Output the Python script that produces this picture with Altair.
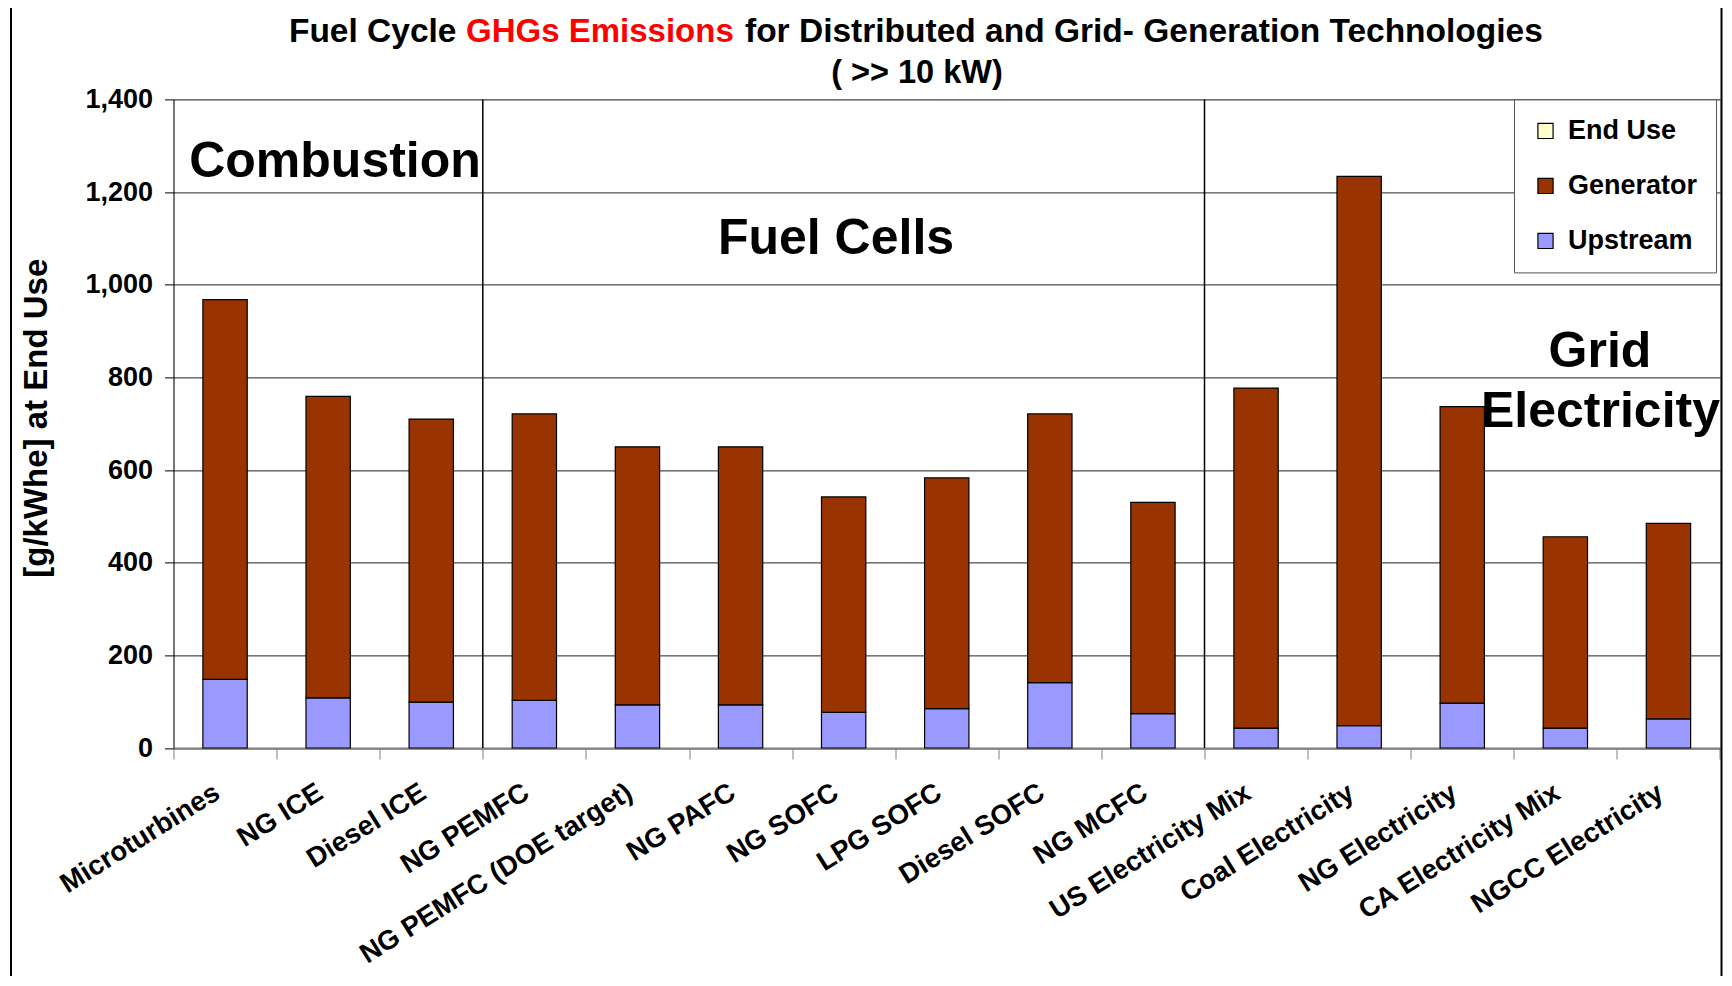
import altair as alt
import pandas as pd

categories = [
    "Microturbines", "NG ICE", "Diesel ICE", "NG PEMFC", "NG PEMFC (DOE target)",
    "NG PAFC", "NG SOFC", "LPG SOFC", "Diesel SOFC", "NG MCFC",
    "US Electricity Mix", "Coal Electricity", "NG Electricity", "CA Electricity Mix",
    "NGCC Electricity",
]
upstream = [148, 108, 99, 103, 93, 93, 77, 85, 141, 74, 43, 48, 97, 43, 63]
generator = [820, 651, 611, 618, 557, 557, 465, 498, 580, 456, 734, 1186, 640, 413, 422]
end_use = [0, 0, 0, 0, 0, 0, 0, 0, 0, 0, 0, 0, 0, 0, 0]

series_names = ["End Use", "Generator", "Upstream"]
series_colors = ["#FFFFCC", "#993300", "#9999FF"]
y_ticks = [0, 200, 400, 600, 800, 1000, 1200, 1400]
separators = ["NG PEMFC", "US Electricity Mix"]
group_labels = ["Combustion", "Fuel Cells", "Grid", "Electricity"]
title_parts = ["Fuel Cycle", "GHGs Emissions", "for Distributed and Grid- Generation Technologies"]
subtitle = "( >> 10 kW)"
y_title = "[g/kWhe] at End Use"

rows = []
for i, c in enumerate(categories):
    rows.append({"cat": c, "series": "Upstream", "value": upstream[i], "ord": 0})
    rows.append({"cat": c, "series": "Generator", "value": generator[i], "ord": 1})
    rows.append({"cat": c, "series": "End Use", "value": end_use[i], "ord": 2})
df = pd.DataFrame(rows)

W, H = 1546.5, 648.6
FONT = "Liberation Sans"


def x_enc(**kw):
    return alt.X(
        "cat:N", sort=categories,
        scale=alt.Scale(paddingInner=0, paddingOuter=0),
        axis=alt.Axis(
            title=None, labelAngle=-32, labelAlign="right", labelBaseline="middle",
            labelFontSize=27.5, labelFontWeight="bold", labelFont=FONT, labelColor="black",
            labelPadding=31, labelOffset=-8, labelLimit=0, tickBand="extent", tickSize=11,
            tickColor="#808080", domainColor="#808080", domainWidth=2, grid=False,
        ),
        **kw,
    )


y = alt.Y(
    "value:Q", stack="zero",
    scale=alt.Scale(domain=[0, 1400], nice=False),
    axis=alt.Axis(
        values=y_ticks, format=",.0f", title=y_title,
        titleFontSize=33, titleFontWeight="bold", titleFont=FONT, titleColor="black",
        titleX=-137, titleY=H / 2 - 6, titleAngle=270, titleAlign="center", titleBaseline="middle",
        labelFontSize=27, labelFontWeight="bold", labelFont=FONT, labelColor="black",
        labelPadding=12, tickSize=9, tickColor="black", domainColor="black",
        gridColor="#222", gridWidth=1,
    ),
)

bars = alt.Chart(df).transform_filter("datum.value > 0").mark_bar(
    width=alt.RelativeBandSize(0.43), stroke="black", strokeWidth=1.2
).encode(
    x=x_enc(),
    y=y,
    color=alt.Color(
        "series:N",
        scale=alt.Scale(domain=series_names, range=series_colors),
        legend=alt.Legend(
            title=None, orient="none", legendX=1340.5, legendY=0,
            symbolType="square", symbolSize=230, symbolStrokeColor="black",
            symbolStrokeWidth=1.2, symbolOpacity=1,
            labelFontSize=27, labelFontWeight="bold", labelFont=FONT, labelColor="black",
            labelOffset=9, rowPadding=27, padding=18,
            strokeColor="#555", fillColor="white",
        ),
    ),
    order=alt.Order("ord:Q"),
)

sep_df = pd.DataFrame({"cat": separators})
seps = alt.Chart(sep_df).mark_rule(color="black", strokeWidth=1.5).encode(
    x=x_enc(bandPosition=0), y=alt.value(0), y2=alt.value(H)
)

one = pd.DataFrame({"k": [0]})
border = alt.Chart(one).mark_rect(fill=None, stroke="black", strokeWidth=2).encode(
    x=alt.value(-162.5), x2=alt.value(1548), y=alt.value(-95), y2=alt.value(H + 260)
)


def text_layer(txt, xv, yv, size, align="center", color="black"):
    return alt.Chart(pd.DataFrame({"t": [txt]})).mark_text(
        font=FONT, fontSize=size, fontWeight="bold", align=align, baseline="alphabetic",
        color=color,
    ).encode(text="t:N", x=alt.value(xv), y=alt.value(yv))


labels = [
    text_layer(group_labels[0], 161.5, 78, 50),
    text_layer(group_labels[1], 662.5, 155, 50),
    text_layer(group_labels[2], 1426.5, 268, 50),
    text_layer(group_labels[3], 1427, 328, 50),
]

titles = [
    text_layer(title_parts[0], 283, -57, 33.5, align="right"),
    text_layer(title_parts[1], 292.5, -57, 33.0, align="left", color="#FF0000"),
    text_layer(title_parts[2], 571.5, -57, 33.5, align="left"),
    text_layer(subtitle, 743.5, -16, 32.5),
]

chart = alt.layer(border, bars, seps, *labels, *titles).properties(
    width=W, height=H,
    autosize=alt.AutoSizeParams(type="none"),
    padding={"left": 165.5, "top": 91.4, "right": 4, "bottom": 228},
).configure_view(stroke="#808080", strokeWidth=1.5).configure(background="white")

chart.save("out.html", embed_options={"renderer": "svg", "actions": False})
